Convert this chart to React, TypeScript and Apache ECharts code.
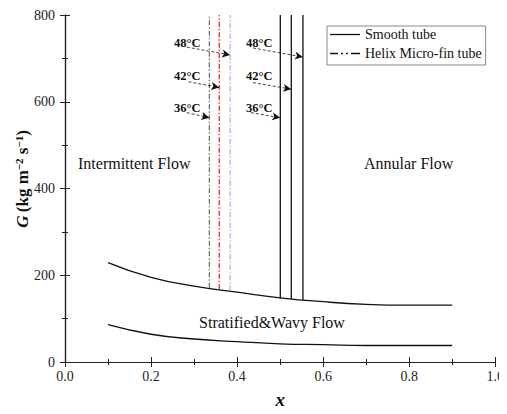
import React, { useEffect, useRef } from "react";
import * as echarts from "echarts";

const upperX = [0.1, 0.2, 0.3, 0.4, 0.5, 0.6, 0.7, 0.8, 0.9];
const upperG = [229, 195, 175, 161, 148, 139, 133, 131, 131];
const lowerX = [0.1, 0.2, 0.3, 0.4, 0.5, 0.6, 0.7, 0.8, 0.9];
const lowerG = [86, 64, 53, 47, 42, 40, 38, 38, 38];

const smoothX = [0.5004, 0.526, 0.553];
const smoothBottom = [147, 145, 143];
const helixX = [0.3356, 0.3586, 0.3839];
const helixBottom = [171, 168, 164];
const helixColors = ["#707070", "#e8282b", "#a9b4ee"];
const temps = ["36°C", "42°C", "48°C"];

// arrows: [startX, startG, endX, endG]
const leftArrows = [
  [0.283, 575, 0.3356, 563],
  [0.287, 646, 0.3586, 633],
  [0.283, 726, 0.3839, 708],
];
const rightArrows = [
  [0.432, 575, 0.5004, 563],
  [0.437, 644, 0.526, 629],
  [0.437, 724, 0.553, 703],
];

const FONT = "Liberation Serif";

export default function App() {
  const ref = useRef<HTMLDivElement>(null);
  useEffect(() => {
    const chart = echarts.init(ref.current!, null, { renderer: "svg" });
    const dashDot = [5, 2, 1.5, 2];
    const series: any[] = [];
    series.push({
      name: "upper",
      type: "line",
      smooth: true,
      symbol: "none",
      data: upperX.map((x, i) => [x, upperG[i]]),
      lineStyle: { color: "#111", width: 1.3 },
      z: 3,
    });
    series.push({
      name: "lower",
      type: "line",
      smooth: true,
      symbol: "none",
      data: lowerX.map((x, i) => [x, lowerG[i]]),
      lineStyle: { color: "#111", width: 1.3 },
      z: 3,
    });
    smoothX.forEach((x, i) => {
      series.push({
        name: "Smooth tube",
        type: "line",
        symbol: "none",
        color: "#111",
        data: [
          [x, smoothBottom[i]],
          [x, 800],
        ],
        lineStyle: { color: "#111", width: 1.3 },
      });
    });
    helixX.forEach((x, i) => {
      series.push({
        name: "helix" + i,
        type: "line",
        symbol: "none",
        data: [
          [x, helixBottom[i]],
          [x, 800],
        ],
        lineStyle: { color: helixColors[i], width: 1.3, type: dashDot },
      });
    });
    series.push({
      name: "Helix Micro-fin tube",
      type: "line",
      symbol: "none",
      color: "#111",
      data: [],
      lineStyle: { color: "#111", width: 1.2 },
    });
    const arrowData = [...leftArrows, ...rightArrows].map((a) => [
      { coord: [a[0], a[1]] },
      { coord: [a[2], a[3]] },
    ]);
    series.push({
      name: "arrows",
      type: "line",
      symbol: "none",
      data: [],
      markLine: {
        silent: true,
        symbol: ["none", "arrow"],
        symbolSize: [6, 8],
        label: { show: false },
        lineStyle: { color: "#111", width: 0.8, type: [3, 2] },
        emphasis: { disabled: true },
        data: arrowData,
      },
    });

    const texts: any[] = [];
    const tempYs = [108, 76, 43];
    temps.forEach((t, i) => {
      [174, 246].forEach((lx) => {
        texts.push({
          type: "text",
          x: lx,
          y: tempYs[i],
          style: {
            text: t,
            fontFamily: FONT,
            fontSize: 12.5,
            fontWeight: "bold",
            fill: "#111",
            align: "left",
            verticalAlign: "middle",
          },
        });
      });
    });
    const region = (text: string, x: number, y: number, align: string) => ({
      type: "text",
      x,
      y,
      style: { text, fontFamily: FONT, fontSize: 16, fill: "#111", align, verticalAlign: "middle" },
    });
    texts.push(region("Intermittent Flow", 78, 163, "left"));
    texts.push(region("Annular Flow", 364, 163, "left"));
    texts.push(region("Stratified&Wavy Flow", 272, 322, "center"));
    texts.push({
      type: "text",
      x: 22,
      y: 179,
      rotation: Math.PI / 2,
      style: {
        text: "{i|G} {b|(kg m}{s|−2}{b| s}{s|−1}{b|)}",
        align: "center",
        verticalAlign: "middle",
        fill: "#111",
        rich: {
          i: { fontFamily: FONT, fontSize: 17, fontWeight: "bold", fontStyle: "italic", fill: "#111", color: "#111" },
          b: { fontFamily: FONT, fontSize: 17, fontWeight: "bold", fill: "#111", color: "#111" },
          s: { fontFamily: FONT, fontSize: 11, fontWeight: "bold", fill: "#111", color: "#111", verticalAlign: "top", lineHeight: 11 },
        },
      },
    });

    const axisCommon = {
      axisLine: { show: true, lineStyle: { color: "#222", width: 1.2 } },
      axisTick: { show: true, inside: true, length: 5, lineStyle: { color: "#222", width: 1 } },
      minorTick: { show: true, splitNumber: 2, length: 3, lineStyle: { color: "#222", width: 1 } },
      splitLine: { show: false },
    };

    chart.setOption({
      animation: false,
      backgroundColor: "#fff",
      textStyle: { fontFamily: FONT },
      grid: { left: 65, right: 7, top: 15, bottom: 51 },
      legend: {
        data: [
          { name: "Smooth tube", icon: "path://M0,0H30V1.3H0Z" },
          {
            name: "Helix Micro-fin tube",
            icon: "path://M0,0H8V1.3H0Z M11,0H13V1.3H11Z M16,0H18V1.3H16Z M21,0H30V1.3H21Z",
          },
        ],
        orient: "vertical",
        left: 327,
        top: 26,
        itemWidth: 30,
        itemHeight: 1.3,
        itemGap: 4,
        padding: [1, 4, 4, 3],
        borderColor: "#888",
        borderWidth: 1,
        textStyle: { fontFamily: FONT, fontSize: 14, color: "#111", lineHeight: 15 },
        selectedMode: false,
      },
      xAxis: [
        {
          type: "value",
          min: 0,
          max: 1,
          interval: 0.2,
          ...axisCommon,
          axisLabel: {
            fontFamily: FONT,
            fontSize: 14,
            color: "#222",
            margin: 7,
            formatter: (v: number) => v.toFixed(1),
          },
          name: "x",
          nameLocation: "middle",
          nameGap: 28,
          nameTextStyle: {
            fontFamily: FONT,
            fontSize: 19,
            fontStyle: "italic",
            fontWeight: "bold",
            color: "#111",
          },
        },
        {
          type: "value",
          position: "top",
          min: 0,
          max: 1,
          interval: 0.2,
          ...axisCommon,
          axisLabel: { show: false },
        },
      ],
      yAxis: [
        {
          type: "value",
          min: 0,
          max: 800,
          interval: 200,
          ...axisCommon,
          axisLabel: { fontFamily: FONT, fontSize: 14, color: "#222", margin: 10 },
        },
        {
          type: "value",
          position: "right",
          min: 0,
          max: 800,
          interval: 200,
          ...axisCommon,
          axisLabel: { show: false },
        },
      ],
      graphic: texts,
      series,
    });
    return () => chart.dispose();
  }, []);
  return <div ref={ref} style={{ width: 507, height: 414, margin: -8 }} />;
}
